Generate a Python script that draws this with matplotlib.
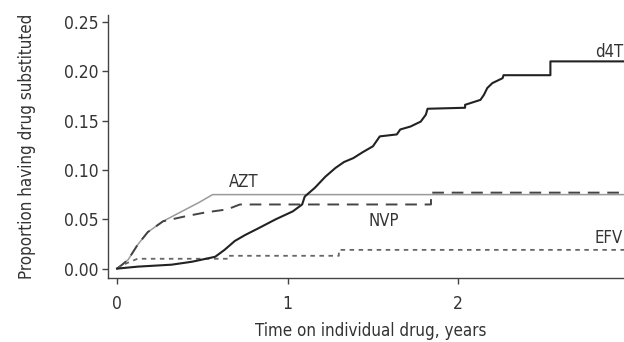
import matplotlib
matplotlib.use("Agg")
import matplotlib.pyplot as plt

# ---------------------------------------------------------------
# DATA
# ---------------------------------------------------------------
d4t_t = [0, 0.12, 0.32, 0.44, 0.575, 0.63, 0.69, 0.75, 0.83, 0.93, 1.03, 1.085, 1.10,
         1.16, 1.22, 1.28, 1.33, 1.385, 1.44, 1.50, 1.54, 1.64, 1.66, 1.72, 1.78, 1.81,
         1.82, 2.04, 2.04, 2.13, 2.15, 2.17, 2.20, 2.26, 2.265, 2.54, 2.54, 3.05]
d4t_p = [0, 0.002, 0.004, 0.007, 0.012, 0.019, 0.028, 0.034, 0.041, 0.050, 0.058, 0.065, 0.073,
         0.082, 0.093, 0.102, 0.108, 0.112, 0.118, 0.124, 0.134, 0.136, 0.141, 0.144, 0.149, 0.156,
         0.162, 0.163, 0.166, 0.171, 0.176, 0.183, 0.188, 0.193, 0.196, 0.196, 0.210, 0.210]

azt_t = [0, 0.03, 0.065, 0.12, 0.18, 0.27, 0.38, 0.48, 0.56, 3.05]
azt_p = [0, 0.004, 0.009, 0.024, 0.037, 0.048, 0.058, 0.067, 0.075, 0.075]

nvp_t = [0, 0.03, 0.065, 0.12, 0.18, 0.27, 0.40, 0.52, 0.645, 0.72, 1.84, 1.84, 3.05]
nvp_p = [0, 0.004, 0.009, 0.024, 0.037, 0.048, 0.053, 0.057, 0.060, 0.065, 0.065, 0.077, 0.077]

efv_t = [0, 0.05, 0.12, 0.65, 0.65, 1.30, 1.30, 3.05]
efv_p = [0, 0.005, 0.010, 0.010, 0.013, 0.013, 0.019, 0.019]

x_ticks = [0, 1, 2, 3]
y_ticks = [0.00, 0.05, 0.10, 0.15, 0.20, 0.25]

plt.rcParams['font.family'] = ['DejaVu Sans']
plt.rcParams['font.stretch'] = 'condensed'
TXT = '#333333'

fig = plt.figure(figsize=(6.24, 3.42), dpi=100)
# axes run a little past the right edge, as in the cropped original
ax = fig.add_axes([108 / 624, 64 / 342, 526 / 624, 263 / 342])

ax.plot(azt_t, azt_p, color='#9a9a9a', lw=1.1, zorder=2)
ax.plot(nvp_t, nvp_p, color='#444444', lw=1.4, dashes=(6, 4), zorder=3)
ax.plot(efv_t, efv_p, color='#666666', lw=1.3, dashes=(2.5, 2.5), zorder=3)
ax.plot(d4t_t, d4t_p, color='#222222', lw=1.5, zorder=4)

ax.text(2.97, 0.2195, 'd4T', fontsize=12, color=TXT, ha='right', va='center')
ax.text(0.74, 0.088, 'AZT', fontsize=12, color=TXT, ha='center', va='center')
ax.text(1.565, 0.0486, 'NVP', fontsize=12, color=TXT, ha='center', va='center')
ax.text(2.80, 0.031, 'EFV', fontsize=12, color=TXT, ha='left', va='center')

ax.set_xlim(-0.053, 3.03)
ax.set_ylim(-0.0095, 0.257)
ax.set_xticks(x_ticks)
ax.set_yticks(y_ticks)
ax.set_yticklabels([f'{v:.2f}' for v in y_ticks])

for side in ('top', 'right'):
    ax.spines[side].set_visible(False)
for side in ('left', 'bottom'):
    ax.spines[side].set_color('#444444')
    ax.spines[side].set_linewidth(1.0)

ax.tick_params(axis='both', colors='#444444', labelcolor=TXT, labelsize=12.5,
               length=4, width=1)
ax.tick_params(axis='x', pad=8)
ax.tick_params(axis='y', pad=3)

ax.set_xlabel('Time on individual drug, years', fontsize=12.2, color=TXT, labelpad=7)
ax.set_ylabel('Proportion having drug substituted', fontsize=12.2, color=TXT, labelpad=20)

fig.savefig('out.png', dpi=100)
